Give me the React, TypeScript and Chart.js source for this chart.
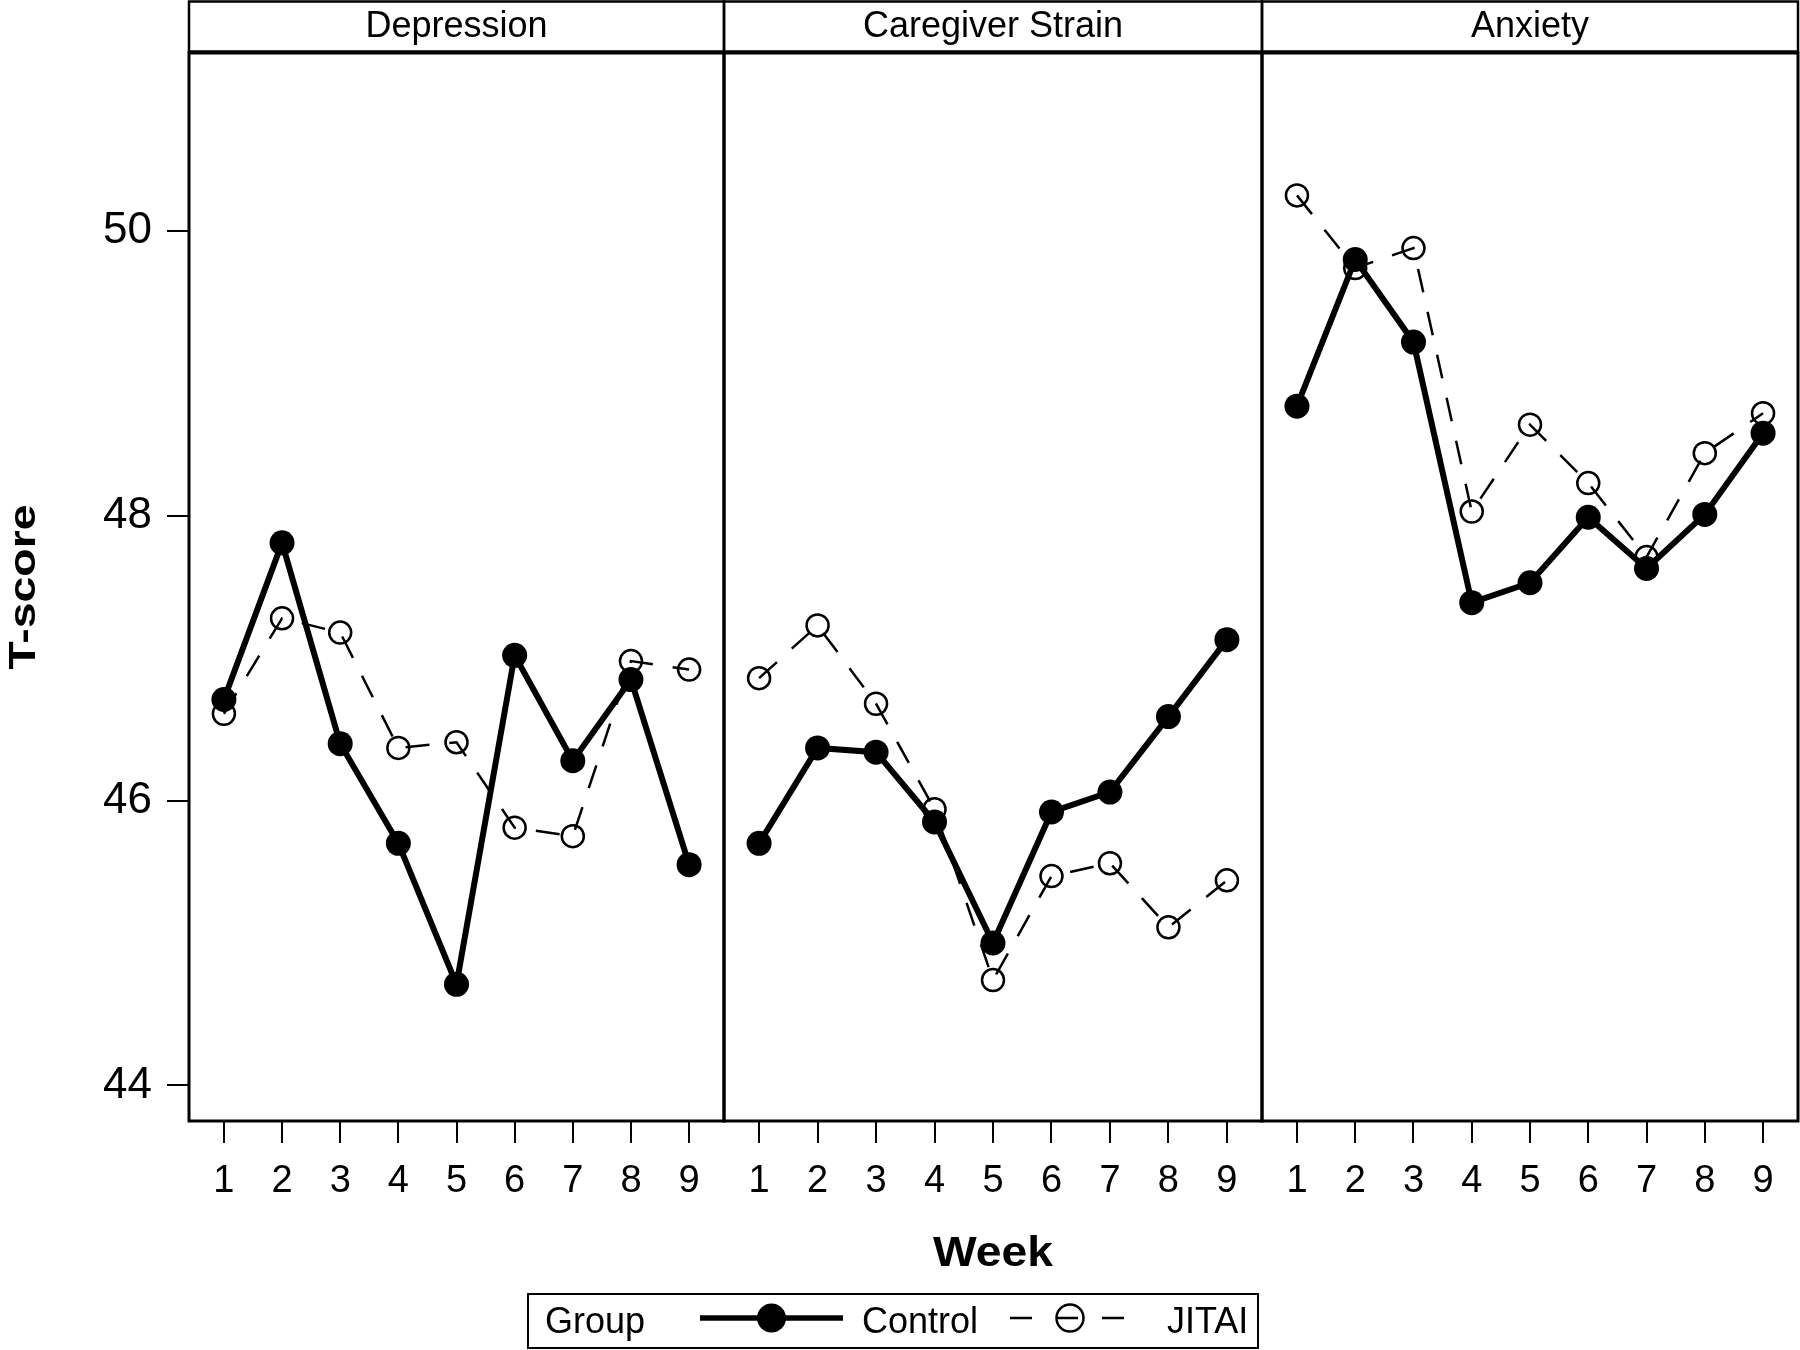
import React, { useEffect, useRef } from "react";
import { Chart, registerables } from "chart.js";

Chart.register(...registerables);

const weeks = [1, 2, 3, 4, 5, 6, 7, 8, 9];
const panelTitles = ["Depression", "Caregiver Strain", "Anxiety"];
const yTicks = [44, 46, 48, 50];

const depressionControl = [46.71, 47.81, 46.4, 45.7, 44.71, 47.02, 46.28, 46.85, 45.55];
const depressionJitai = [46.61, 47.28, 47.18, 46.37, 46.41, 45.81, 45.75, 46.98, 46.92];
const strainControl = [45.7, 46.37, 46.34, 45.85, 45.0, 45.92, 46.06, 46.59, 47.13];
const strainJitai = [46.86, 47.23, 46.68, 45.94, 44.74, 45.47, 45.56, 45.11, 45.44];
const anxietyControl = [48.77, 49.8, 49.22, 47.39, 47.53, 47.99, 47.63, 48.01, 48.58];
const anxietyJitai = [50.25, 49.74, 49.88, 48.03, 48.64, 48.23, 47.71, 48.44, 48.72];

const controlSeries = [depressionControl, strainControl, anxietyControl];
const jitaiSeries = [depressionJitai, strainJitai, anxietyJitai];

const W = 1800;
const H = 1350;
const FONT = "'Liberation Sans', Arial, Helvetica, sans-serif";
const panelEdges = [
  [189, 724],
  [724, 1262],
  [1262, 1798],
];
const PLOT_TOP = 53;
const PLOT_BOTTOM = 1121;
const X_AXIS_H = 80;

function stretchedText(
  ctx: CanvasRenderingContext2D,
  text: string,
  x: number,
  y: number,
  targetWidth: number,
  font: string,
  rotate = 0
) {
  ctx.save();
  ctx.font = font;
  const w = ctx.measureText(text).width;
  ctx.translate(x, y);
  if (rotate) ctx.rotate(rotate);
  ctx.scale(targetWidth / w, 1);
  ctx.textAlign = "center";
  ctx.textBaseline = "alphabetic";
  ctx.fillStyle = "#000";
  ctx.fillText(text, 0, 0);
  ctx.restore();
}

function makeFramePlugin(title: string) {
  return {
    id: "frameStrip",
    afterDraw(chart: any) {
      const { ctx, chartArea } = chart;
      const { left, right, top, bottom } = chartArea;
      ctx.save();
      ctx.strokeStyle = "#000";
      ctx.lineWidth = 2.5;
      ctx.strokeRect(left, 1.5, right - left, 50);
      ctx.lineWidth = 3;
      ctx.strokeRect(left, top, right - left, bottom - top);
      ctx.fillStyle = "#000";
      ctx.font = `36px ${FONT}`;
      ctx.textAlign = "center";
      ctx.textBaseline = "alphabetic";
      ctx.fillText(title, (left + right) / 2, 37);
      ctx.restore();
    },
  };
}

const decorPlugin = {
  id: "decor",
  afterDraw(chart: any) {
    const ctx: CanvasRenderingContext2D = chart.ctx;
    stretchedText(ctx, "T-score", 35, 587, 165, `bold 37px ${FONT}`, -Math.PI / 2);
    stretchedText(ctx, "Week", 993, 1266, 120, `bold 43px ${FONT}`);
    ctx.save();
    ctx.strokeStyle = "#000";
    ctx.lineWidth = 2;
    ctx.strokeRect(528, 1294, 730, 54);
    ctx.fillStyle = "#000";
    ctx.font = `36px ${FONT}`;
    ctx.textAlign = "left";
    ctx.textBaseline = "alphabetic";
    ctx.fillText("Group", 545, 1333);
    ctx.fillText("Control", 862, 1333);
    ctx.fillText("JITAI", 1167, 1333);
    ctx.lineWidth = 5.5;
    ctx.beginPath();
    ctx.moveTo(700, 1318);
    ctx.lineTo(843, 1318);
    ctx.stroke();
    ctx.beginPath();
    ctx.arc(771.5, 1318, 14.5, 0, Math.PI * 2);
    ctx.fill();
    ctx.lineWidth = 2.5;
    ctx.setLineDash([22, 24]);
    ctx.beginPath();
    ctx.moveTo(1010, 1318);
    ctx.lineTo(1128, 1318);
    ctx.stroke();
    ctx.setLineDash([]);
    ctx.beginPath();
    ctx.arc(1070, 1318, 13.5, 0, Math.PI * 2);
    ctx.stroke();
    ctx.restore();
  },
};

function buildConfig(idx: number): any {
  const [pl, pr] = panelEdges[idx];
  const first = idx === 0;
  return {
    type: "line",
    data: {
      datasets: [
        {
          label: "Control",
          data: weeks.map((w, i) => ({ x: w, y: controlSeries[idx][i] })),
          borderColor: "#000",
          borderWidth: 6,
          pointRadius: 12.5,
          pointBackgroundColor: "#000",
          pointBorderColor: "#000",
          pointBorderWidth: 0,
          tension: 0,
          fill: false,
          clip: false,
        },
        {
          label: "JITAI",
          data: weeks.map((w, i) => ({ x: w, y: jitaiSeries[idx][i] })),
          borderColor: "#000",
          borderWidth: 2.5,
          borderDash: [24, 20],
          pointRadius: 11,
          pointBackgroundColor: "rgba(0,0,0,0)",
          pointBorderColor: "#000",
          pointBorderWidth: 2.5,
          tension: 0,
          fill: false,
          clip: false,
        },
      ],
    },
    options: {
      responsive: false,
      animation: false,
      devicePixelRatio: 1,
      events: [],
      layout: {
        autoPadding: false,
        padding: {
          left: 0,
          right: W - pr,
          top: PLOT_TOP,
          bottom: H - PLOT_BOTTOM - X_AXIS_H,
        },
      },
      plugins: {
        legend: { display: false },
        tooltip: { enabled: false },
        title: { display: false },
      },
      scales: {
        x: {
          type: "linear",
          min: 0.4,
          max: 9.6,
          afterBuildTicks: (s: any) => {
            s.ticks = weeks.map((v) => ({ value: v }));
          },
          afterFit: (s: any) => {
            s.height = X_AXIS_H;
            s.paddingLeft = 0;
            s.paddingRight = 0;
          },
          grid: {
            display: true,
            drawOnChartArea: false,
            drawTicks: true,
            tickLength: 22,
            color: "#000",
            lineWidth: 2,
          },
          border: { display: false },
          ticks: {
            font: { family: FONT, size: 38 },
            color: "#000",
            padding: 16,
            maxRotation: 0,
            autoSkip: false,
          },
        },
        y: {
          type: "linear",
          display: true,
          min: 43.75,
          max: 51.25,
          afterBuildTicks: (s: any) => {
            s.ticks = yTicks.map((v) => ({ value: v }));
          },
          afterFit: (s: any) => {
            s.width = pl;
            s.paddingTop = 0;
            s.paddingBottom = 0;
          },
          grid: {
            display: first,
            drawOnChartArea: false,
            drawTicks: true,
            tickLength: 22,
            color: "#000",
            lineWidth: 2,
          },
          border: { display: false },
          ticks: {
            display: first,
            font: { family: FONT, size: 44 },
            color: "#000",
            padding: 15,
          },
        },
      },
    },
    plugins: first ? [makeFramePlugin(panelTitles[idx]), decorPlugin] : [makeFramePlugin(panelTitles[idx])],
  };
}

export default function App() {
  const refs = [useRef<HTMLCanvasElement>(null), useRef<HTMLCanvasElement>(null), useRef<HTMLCanvasElement>(null)];

  useEffect(() => {
    const charts: Chart[] = [];
    refs.forEach((r, i) => {
      if (r.current) charts.push(new Chart(r.current, buildConfig(i)));
    });
    return () => {
      charts.forEach((c) => c.destroy());
    };
  }, []);

  return (
    <div
      style={{
        position: "absolute",
        left: 0,
        top: 0,
        width: W,
        height: H,
        background: "#fff",
        overflow: "hidden",
      }}
    >
      {refs.map((r, i) => (
        <canvas
          key={i}
          ref={r}
          width={W}
          height={H}
          style={{ position: "absolute", left: 0, top: 0, width: W, height: H }}
        />
      ))}
    </div>
  );
}
